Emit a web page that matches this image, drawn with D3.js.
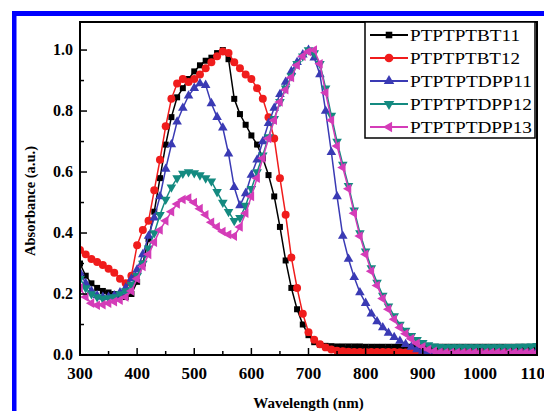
<!DOCTYPE html>
<html><head><meta charset="utf-8">
<script src="https://cdn.jsdelivr.net/npm/d3@7/dist/d3.min.js"></script>
<style>html,body{margin:0;padding:0;background:#fff;}svg{display:block;}</style>
</head><body>
<script>
const wavelengths = d3.range(300, 1101, 10);
const seriesNames = ["PTPTPTBT11","PTPTPTBT12","PTPTPTDPP11","PTPTPTDPP12","PTPTPTDPP13"];
const bt11 = [0.30,0.26,0.235,0.22,0.21,0.205,0.20,0.195,0.19,0.20,0.24,0.30,0.38,0.47,0.58,0.69,0.78,0.845,0.875,0.905,0.93,0.95,0.965,0.975,0.99,1.0,0.97,0.84,0.79,0.755,0.72,0.69,0.645,0.59,0.52,0.42,0.31,0.22,0.15,0.10,0.065,0.042,0.034,0.03,0.029,0.028,0.028,0.028,0.028,0.028,0.027,0.027,0.027,0.027,0.027,0.027,0.027,0.027,0.027,0.027,0.027,0.027,0.027,0.027,0.027,0.027,0.027,0.027,0.027,0.027,0.027,0.027,0.027,0.027,0.027,0.027,0.027,0.027,0.027,0.027,0.027];
const bt12 = [0.344,0.33,0.315,0.305,0.295,0.283,0.27,0.25,0.235,0.26,0.36,0.41,0.44,0.54,0.64,0.75,0.84,0.89,0.905,0.895,0.905,0.92,0.94,0.96,0.98,0.995,0.99,0.96,0.94,0.92,0.905,0.875,0.84,0.78,0.71,0.58,0.46,0.32,0.22,0.135,0.075,0.05,0.035,0.025,0.018,0.014,0.012,0.011,0.01,0.01,0.01,0.01,0.01,0.01,0.01,0.01,0.009,0.008,0.008,0.008,0.007,0.007,0.007,0.007,0.007,0.007,0.007,0.007,0.007,0.007,0.007,0.007,0.007,0.007,0.007,0.007,0.007,0.007,0.007,0.007,0.007];
const dpp11 = [0.27,0.235,0.21,0.195,0.19,0.19,0.195,0.205,0.22,0.25,0.28,0.33,0.39,0.45,0.52,0.61,0.69,0.765,0.81,0.85,0.875,0.89,0.885,0.825,0.78,0.745,0.66,0.55,0.49,0.53,0.59,0.64,0.70,0.76,0.81,0.855,0.895,0.93,0.96,0.985,1.0,0.975,0.92,0.80,0.665,0.52,0.39,0.315,0.255,0.205,0.17,0.135,0.11,0.09,0.072,0.058,0.046,0.035,0.026,0.018,0.013,0.011,0.01,0.01,0.01,0.01,0.01,0.01,0.01,0.01,0.01,0.01,0.01,0.01,0.01,0.01,0.011,0.011,0.011,0.012,0.012];
const dpp12 = [0.25,0.22,0.20,0.19,0.185,0.187,0.19,0.20,0.21,0.23,0.26,0.30,0.35,0.40,0.46,0.51,0.55,0.58,0.595,0.60,0.597,0.59,0.58,0.57,0.535,0.50,0.47,0.44,0.45,0.49,0.545,0.60,0.655,0.715,0.775,0.83,0.875,0.915,0.955,0.98,1.0,0.99,0.955,0.875,0.785,0.70,0.625,0.555,0.475,0.40,0.34,0.285,0.238,0.195,0.16,0.128,0.10,0.08,0.063,0.05,0.04,0.033,0.029,0.027,0.026,0.026,0.026,0.026,0.026,0.026,0.026,0.026,0.026,0.026,0.026,0.027,0.027,0.028,0.028,0.029,0.03];
const dpp13 = [0.22,0.19,0.17,0.163,0.165,0.17,0.175,0.18,0.19,0.21,0.25,0.29,0.33,0.37,0.41,0.44,0.47,0.495,0.51,0.515,0.50,0.48,0.46,0.435,0.42,0.405,0.395,0.39,0.42,0.465,0.52,0.58,0.645,0.71,0.77,0.83,0.87,0.91,0.95,0.98,0.995,1.0,0.955,0.86,0.77,0.685,0.615,0.545,0.465,0.39,0.33,0.275,0.228,0.185,0.15,0.117,0.09,0.07,0.053,0.038,0.027,0.018,0.012,0.009,0.008,0.008,0.008,0.008,0.008,0.008,0.008,0.008,0.008,0.008,0.008,0.008,0.008,0.008,0.008,0.008,0.008];
const xTicks = [300,400,500,600,700,800,900,1000,1100];
const yTicks = [0.0,0.2,0.4,0.6,0.8,1.0];

const W = 544, H = 411;
const svg = d3.select("body").append("svg").attr("width", W).attr("height", H);

// blue border
svg.append("rect").attr("x",12).attr("y",11).attr("width",W-12).attr("height",5).attr("fill","#0000ff");
svg.append("rect").attr("x",12).attr("y",11).attr("width",4.5).attr("height",H-11).attr("fill","#0000ff");

const pL = 80, pR = 537, pT = 22, pB = 355;
const x = d3.scaleLinear().domain([300,1100]).range([pL,pR]);
const y = d3.scaleLinear().domain([0,1.092]).range([pB,pT]);

const colors = ["#000000","#f01c1c","#3a3ab4","#148a80","#d43cb8"];
const shapes = [d3.symbolSquare, d3.symbolCircle, d3.symbolTriangle, d3.symbolTriangle, d3.symbolTriangle];
const sizes = [36, 50, 40, 40, 40];
const rots = [0, 0, 0, 180, -90];
const data = [bt11, bt12, dpp11, dpp12, dpp13];

svg.append("clipPath").attr("id","c").append("rect")
  .attr("x",pL).attr("y",pT-6).attr("width",pR-pL).attr("height",pB-pT+6);
const g = svg.append("g").attr("clip-path","url(#c)");

const line = d3.line().x((d,i)=>x(wavelengths[i])).y(d=>y(d));
data.forEach((vals, k) => {
  g.append("path").datum(vals).attr("d", line).attr("fill","none")
    .attr("stroke", colors[k]).attr("stroke-width", 1.5);
  const sym = d3.symbol().type(shapes[k]).size(sizes[k]);
  g.selectAll(null).data(vals).enter().append("path")
    .attr("d", sym)
    .attr("transform", (d,i)=>`translate(${x(wavelengths[i])},${y(d)}) rotate(${rots[k]})`)
    .attr("fill", colors[k]);
});

// frame
svg.append("rect").attr("x",pL).attr("y",pT).attr("width",pR-pL).attr("height",pB-pT)
  .attr("fill","none").attr("stroke","#000").attr("stroke-width",2);

// ticks
const tg = svg.append("g").attr("stroke","#000").attr("stroke-width",1.5);
d3.range(300,1101,50).forEach(v => {
  const major = v % 100 === 0;
  tg.append("line").attr("x1",x(v)).attr("x2",x(v)).attr("y1",pB).attr("y2",pB-(major?7:4));
});
d3.range(0,11).map(i=>i/10).forEach((v,i) => {
  const major = i % 2 === 0;
  tg.append("line").attr("x1",pL).attr("x2",pL+(major?7:4)).attr("y1",y(v)).attr("y2",y(v));
});

const font = "'Liberation Serif','Times New Roman',serif";
svg.append("g").selectAll("text").data(xTicks).enter().append("text")
  .attr("x", d=>x(d)).attr("y", 379).attr("text-anchor","middle")
  .attr("font-family",font).attr("font-weight","bold").attr("font-size",17).text(d=>d);
svg.append("g").selectAll("text").data(yTicks).enter().append("text")
  .attr("x", 73).attr("y", d=>y(d)+5).attr("text-anchor","end")
  .attr("font-family",font).attr("font-weight","bold").attr("font-size",16).text(d=>d.toFixed(1));

svg.append("text").attr("x",(pL+pR)/2).attr("y",408).attr("text-anchor","middle")
  .attr("font-family",font).attr("font-weight","bold").attr("font-size",15).text("Wavelength (nm)");
svg.append("text").attr("transform","translate(35,201) rotate(-90)").attr("text-anchor","middle")
  .attr("font-family",font).attr("font-weight","bold").attr("font-size",14.5).text("Absorbance (a.u.)");

// legend
const lg = svg.append("g");
lg.append("rect").attr("x",365).attr("y",pT).attr("width",170).attr("height",116)
  .attr("fill","#fff").attr("stroke","#000").attr("stroke-width",1.5);
seriesNames.forEach((name,k) => {
  const ly = 35 + k*23;
  lg.append("line").attr("x1",370).attr("x2",408).attr("y1",ly).attr("y2",ly)
    .attr("stroke",colors[k]).attr("stroke-width",2);
  lg.append("path").attr("d", d3.symbol().type(shapes[k]).size(sizes[k]*1.2)())
    .attr("transform",`translate(389,${ly}) rotate(${rots[k]})`).attr("fill",colors[k]);
  lg.append("text").attr("x",410).attr("y",ly+6).attr("font-family",font).attr("font-size",17)
    .attr("textLength", name.length > 10 ? 122 : 110).attr("lengthAdjust","spacingAndGlyphs").text(name);
});
</script>
</body></html>
